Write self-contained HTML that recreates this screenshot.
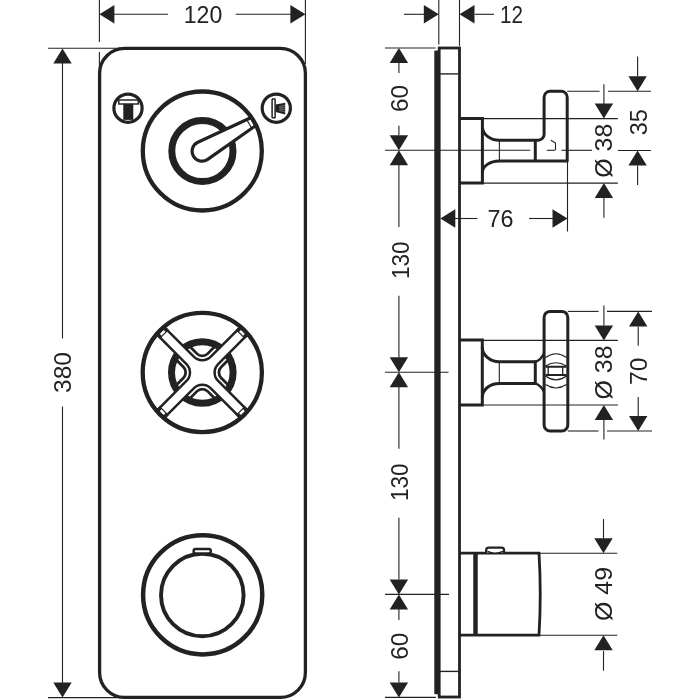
<!DOCTYPE html>
<html><head><meta charset="utf-8"><style>
html,body{margin:0;padding:0;background:#fff;}
svg{display:block;will-change:transform;}
text{font-family:"Liberation Sans",sans-serif;fill:#222222;stroke:none;}
</style></head><body>
<svg width="700" height="700" viewBox="0 0 700 700" stroke="#222222" fill="none">
<rect x="0" y="0" width="700" height="700" fill="#fff" stroke="none"/>
<rect x="99.6" y="48.4" width="205.8" height="649" rx="25" ry="25" fill="none" stroke-width="3.3"/>
<line x1="99.40" y1="0.00" x2="99.40" y2="42.00" stroke-width="1.1"/>
<line x1="99.40" y1="52.00" x2="99.40" y2="74.00" stroke-width="1.1"/>
<line x1="305.40" y1="0.00" x2="305.40" y2="64.00" stroke-width="1.1"/>
<line x1="114.00" y1="14.30" x2="168.00" y2="14.30" stroke-width="1.1"/>
<line x1="235.70" y1="14.30" x2="291.00" y2="14.30" stroke-width="1.1"/>
<polygon points="99.40,14.30 114.40,5.10 114.40,23.50" fill="#222222" stroke="none"/>
<polygon points="305.40,14.30 290.40,5.10 290.40,23.50" fill="#222222" stroke="none"/>
<text x="203.00" y="23.09" font-size="24" text-anchor="middle" textLength="38.5" lengthAdjust="spacingAndGlyphs">120</text>
<line x1="48.00" y1="48.20" x2="125.00" y2="48.20" stroke-width="1.1"/>
<line x1="48.00" y1="697.60" x2="125.00" y2="697.60" stroke-width="1.1"/>
<line x1="62.50" y1="62.00" x2="62.50" y2="338.60" stroke-width="1.1"/>
<line x1="62.50" y1="406.40" x2="62.50" y2="684.00" stroke-width="1.1"/>
<polygon points="62.50,48.40 53.30,63.40 71.70,63.40" fill="#222222" stroke="none"/>
<polygon points="62.50,697.60 53.30,682.60 71.70,682.60" fill="#222222" stroke="none"/>
<text transform="translate(62.40,372.50) rotate(-90)" x="0" y="8.59" font-size="24" text-anchor="middle" textLength="41" lengthAdjust="spacingAndGlyphs">380</text>
<circle cx="202.4" cy="151" r="30.6" fill="none" stroke-width="7"/>
<path d="M251.23,117.57 L197.84,142.32 A9.9,9.9 0 1 0 207.70,159.40 L255.83,125.53 Z" fill="#fff" stroke-width="3.2" stroke-linejoin="round"/>
<line x1="251.88" y1="128.50" x2="246.68" y2="119.50" stroke-width="1.2"/>
<circle cx="202.3" cy="151.0" r="59.5" fill="none" stroke-width="4.3"/>
<circle cx="128" cy="108.2" r="14.1" fill="none" stroke-width="3.2"/>
<rect x="118.8" y="100.0" width="19.4" height="4.0" fill="none" stroke-width="1.45"/>
<rect x="123.3" y="104.0" width="10" height="15.9" fill="#222222" stroke="none"/>
<circle cx="276.3" cy="108.2" r="14.1" fill="none" stroke-width="3.2"/>
<rect x="272.1" y="99.0" width="3.0" height="18.8" rx="0.6" fill="none" stroke-width="1.5"/>
<polygon points="275.6,104.6 285.2,102.7 285.2,114.5 275.6,112.1" fill="#222222" stroke="none"/>
<line x1="279.3" y1="106.59" x2="285.8" y2="105.20" stroke="#fff" stroke-width="0.45" stroke-opacity="0.75"/>
<line x1="279.3" y1="107.86" x2="285.8" y2="107.50" stroke="#fff" stroke-width="0.45" stroke-opacity="0.75"/>
<line x1="279.3" y1="109.12" x2="285.8" y2="109.80" stroke="#fff" stroke-width="0.45" stroke-opacity="0.75"/>
<line x1="279.3" y1="110.39" x2="285.8" y2="112.10" stroke="#fff" stroke-width="0.45" stroke-opacity="0.75"/>
<circle cx="202.3" cy="372.5" r="30.8" fill="none" stroke-width="7"/>
<path d="M218.14,380.99 L246.99,409.84 L239.64,417.19 L210.79,388.34 A12.0,12.0 0 0 0 193.81,388.34 L164.96,417.19 L157.61,409.84 L186.46,380.99 A12.0,12.0 0 0 0 186.46,364.01 L157.61,335.16 L164.96,327.81 L193.81,356.66 A12.0,12.0 0 0 0 210.79,356.66 L239.64,327.81 L246.99,335.16 L218.14,364.01 A12.0,12.0 0 0 0 218.14,380.99 Z" fill="#fff" stroke-width="2.5" stroke-linejoin="round"/>
<path d="M215.03,398.66 L207.74,391.38 A7.7,7.7 0 0 0 196.86,391.38 L189.57,398.66" fill="none" stroke-width="2.8"/>
<path d="M176.14,385.23 L183.42,377.94 A7.7,7.7 0 0 0 183.42,367.06 L176.14,359.77" fill="none" stroke-width="2.8"/>
<path d="M189.57,346.34 L196.86,353.62 A7.7,7.7 0 0 0 207.74,353.62 L215.03,346.34" fill="none" stroke-width="2.8"/>
<path d="M228.46,359.77 L221.18,367.06 A7.7,7.7 0 0 0 221.18,377.94 L228.46,385.23" fill="none" stroke-width="2.8"/>
<polygon points="244.73,405.88 248.19,409.34 239.14,418.39 235.68,414.93" fill="#222222" stroke="none"/>
<polygon points="243.10,409.34 245.65,411.89 241.69,415.85 239.14,413.30" fill="#fff" stroke="none"/>
<polygon points="168.92,414.93 165.46,418.39 156.41,409.34 159.87,405.88" fill="#222222" stroke="none"/>
<polygon points="165.46,413.30 162.91,415.85 158.95,411.89 161.50,409.34" fill="#fff" stroke="none"/>
<polygon points="159.87,339.12 156.41,335.66 165.46,326.61 168.92,330.07" fill="#222222" stroke="none"/>
<polygon points="161.50,335.66 158.95,333.11 162.91,329.15 165.46,331.70" fill="#fff" stroke="none"/>
<polygon points="235.68,330.07 239.14,326.61 248.19,335.66 244.73,339.12" fill="#222222" stroke="none"/>
<polygon points="239.14,331.70 241.69,329.15 245.65,333.11 243.10,335.66" fill="#fff" stroke="none"/>
<circle cx="202.3" cy="372.5" r="59.6" fill="none" stroke-width="4.3"/>
<circle cx="202.7" cy="594.8" r="59.6" fill="none" stroke-width="4.5"/>
<circle cx="202.3" cy="595.0" r="41.3" fill="none" stroke-width="3.9"/>
<rect x="193.6" y="549" width="17.2" height="4.5" rx="2" fill="#fff" stroke-width="2.4"/>
<rect x="434.3" y="50.4" width="5" height="643.9" rx="1" fill="#222222" stroke="none"/>
<rect x="439.2" y="48" width="20.3" height="649" fill="none" stroke-width="2.8"/>
<line x1="440.00" y1="73.90" x2="458.40" y2="73.90" stroke-width="1.4"/>
<line x1="440.00" y1="671.40" x2="458.40" y2="671.40" stroke-width="1.4"/>
<line x1="438.80" y1="0.00" x2="438.80" y2="44.60" stroke-width="1.1"/>
<line x1="459.50" y1="0.00" x2="459.50" y2="45.90" stroke-width="1.1"/>
<line x1="404.00" y1="14.30" x2="424.00" y2="14.30" stroke-width="1.1"/>
<line x1="474.90" y1="14.30" x2="494.00" y2="14.30" stroke-width="1.1"/>
<polygon points="438.80,14.30 423.80,5.10 423.80,23.50" fill="#222222" stroke="none"/>
<polygon points="459.50,14.30 474.50,5.10 474.50,23.50" fill="#222222" stroke="none"/>
<text x="511.40" y="23.19" font-size="24" text-anchor="middle" textLength="23" lengthAdjust="spacingAndGlyphs">12</text>
<line x1="385.00" y1="48.00" x2="435.60" y2="48.00" stroke-width="1.1"/>
<line x1="385.00" y1="697.40" x2="435.90" y2="697.40" stroke-width="1.1"/>
<line x1="385.00" y1="150.30" x2="530.20" y2="150.30" stroke-width="1.1"/>
<line x1="385.00" y1="372.30" x2="448.50" y2="372.30" stroke-width="1.1"/>
<line x1="385.00" y1="594.40" x2="449.00" y2="594.40" stroke-width="1.1"/>
<line x1="398.90" y1="63.00" x2="398.90" y2="72.90" stroke-width="1.1"/>
<line x1="398.90" y1="125.70" x2="398.90" y2="135.30" stroke-width="1.1"/>
<polygon points="398.90,48.00 389.70,63.00 408.10,63.00" fill="#222222" stroke="none"/>
<polygon points="398.90,150.30 389.70,135.30 408.10,135.30" fill="#222222" stroke="none"/>
<polygon points="398.90,150.30 389.70,165.30 408.10,165.30" fill="#222222" stroke="none"/>
<text transform="translate(399.80,98.60) rotate(-90)" x="0" y="8.59" font-size="24" text-anchor="middle" textLength="27" lengthAdjust="spacingAndGlyphs">60</text>
<line x1="398.90" y1="165.00" x2="398.90" y2="227.00" stroke-width="1.1"/>
<line x1="398.90" y1="295.70" x2="398.90" y2="357.50" stroke-width="1.1"/>
<polygon points="398.90,372.30 389.70,357.30 408.10,357.30" fill="#222222" stroke="none"/>
<polygon points="398.90,372.30 389.70,387.30 408.10,387.30" fill="#222222" stroke="none"/>
<text transform="translate(400.40,260.20) rotate(-90)" x="0" y="8.59" font-size="24" text-anchor="middle" textLength="37.5" lengthAdjust="spacingAndGlyphs">130</text>
<line x1="398.90" y1="387.00" x2="398.90" y2="448.70" stroke-width="1.1"/>
<line x1="398.90" y1="517.80" x2="398.90" y2="579.50" stroke-width="1.1"/>
<polygon points="398.90,594.40 389.70,579.40 408.10,579.40" fill="#222222" stroke="none"/>
<polygon points="398.90,594.40 389.70,609.40 408.10,609.40" fill="#222222" stroke="none"/>
<text transform="translate(399.80,482.20) rotate(-90)" x="0" y="8.59" font-size="24" text-anchor="middle" textLength="37.5" lengthAdjust="spacingAndGlyphs">130</text>
<line x1="398.90" y1="609.00" x2="398.90" y2="619.90" stroke-width="1.1"/>
<line x1="398.90" y1="671.20" x2="398.90" y2="682.50" stroke-width="1.1"/>
<polygon points="398.90,697.40 389.70,682.40 408.10,682.40" fill="#222222" stroke="none"/>
<text transform="translate(399.80,646.20) rotate(-90)" x="0" y="8.59" font-size="24" text-anchor="middle" textLength="27" lengthAdjust="spacingAndGlyphs">60</text>
<path d="M459.4,118.6 H482.4 V183.1 H459.4" fill="none" stroke-width="3"/>
<path d="M482.4,127 A17,13.4 0 0 0 499.4,140.2 H538 A6,6 0 0 0 544.1,134.2 V97.3 A6,6 0 0 1 550.1,91.3 H561.2 A6,6 0 0 1 567.2,97.3 V161 H499.4 A17,11.5 0 0 0 482.4,172.5" fill="none" stroke-width="3" stroke-linejoin="round"/>
<line x1="499.40" y1="140.20" x2="499.40" y2="161.00" stroke-width="1.1"/>
<line x1="535.30" y1="140.20" x2="535.30" y2="161.00" stroke-width="3"/>
<line x1="482.40" y1="118.60" x2="617.90" y2="118.60" stroke-width="1.1"/>
<line x1="482.40" y1="183.10" x2="617.90" y2="183.10" stroke-width="1.1"/>
<line x1="546.90" y1="150.30" x2="555.30" y2="150.30" stroke-width="1.1"/>
<line x1="561.40" y1="150.30" x2="592.00" y2="150.30" stroke-width="1.1"/>
<polyline points="550.8,140.2 555.5,143 555.5,150" fill="none" stroke-width="1.1"/>
<line x1="567.50" y1="161.00" x2="567.50" y2="231.50" stroke-width="1.1"/>
<line x1="567.20" y1="91.20" x2="599.60" y2="91.20" stroke-width="1.1"/>
<line x1="608.00" y1="91.20" x2="651.00" y2="91.20" stroke-width="1.1"/>
<line x1="617.90" y1="150.50" x2="651.00" y2="150.50" stroke-width="1.1"/>
<line x1="453.50" y1="218.50" x2="477.50" y2="218.50" stroke-width="1.1"/>
<line x1="529.00" y1="218.50" x2="553.50" y2="218.50" stroke-width="1.1"/>
<polygon points="440.30,218.50 455.30,209.30 455.30,227.70" fill="#222222" stroke="none"/>
<polygon points="567.50,218.50 552.50,209.30 552.50,227.70" fill="#222222" stroke="none"/>
<text x="500.60" y="227.09" font-size="24" text-anchor="middle" textLength="26" lengthAdjust="spacingAndGlyphs">76</text>
<line x1="603.90" y1="84.30" x2="603.90" y2="104.00" stroke-width="1.1"/>
<line x1="603.90" y1="198.00" x2="603.90" y2="217.70" stroke-width="1.1"/>
<polygon points="603.90,118.60 594.70,103.60 613.10,103.60" fill="#222222" stroke="none"/>
<polygon points="603.90,183.10 594.70,198.10 613.10,198.10" fill="#222222" stroke="none"/>
<text transform="translate(603.90,150.70) rotate(-90)" x="0" y="8.59" font-size="24" text-anchor="middle" textLength="54" lengthAdjust="spacingAndGlyphs">Ø 38</text>
<line x1="637.60" y1="56.40" x2="637.60" y2="76.50" stroke-width="1.1"/>
<line x1="637.60" y1="165.50" x2="637.60" y2="185.00" stroke-width="1.1"/>
<polygon points="637.60,91.20 628.40,76.20 646.80,76.20" fill="#222222" stroke="none"/>
<polygon points="637.60,150.50 628.40,165.50 646.80,165.50" fill="#222222" stroke="none"/>
<text transform="translate(638.20,122.30) rotate(-90)" x="0" y="8.59" font-size="24" text-anchor="middle" textLength="26" lengthAdjust="spacingAndGlyphs">35</text>
<path d="M459.4,340.1 H482.3 V405 H459.4" fill="none" stroke-width="3"/>
<path d="M482.3,347 A17,14.8 0 0 0 499.3,361.8 H535.5 M535.5,383.4 H499.3 A17,14 0 0 0 482.3,397.4" fill="none" stroke-width="3"/>
<line x1="499.30" y1="361.80" x2="499.30" y2="383.40" stroke-width="1.1"/>
<line x1="535.30" y1="360.30" x2="535.30" y2="384.90" stroke-width="3"/>
<path d="M535.5,361.8 Q541,360 544,353 M535.5,383.4 Q541,385.5 544,392" fill="none" stroke-width="2.2"/>
<rect x="544.1" y="311.4" width="23.7" height="119.6" rx="6" fill="none" stroke-width="3"/>
<path d="M545.5,357.5 Q556,350 566.5,357.5 M545.5,366 Q556,359.5 566.5,366 M545.5,376 Q556,383.6 566.5,376 M545.5,384.6 Q556,391.4 566.5,384.6" fill="none" stroke-width="1.2"/>
<path d="M545.5,366.8 H566.5 M545.5,375.1 H566.5" fill="none" stroke-width="2"/>
<line x1="548.20" y1="366.80" x2="548.20" y2="375.10" stroke-width="1.3"/>
<line x1="562.70" y1="366.80" x2="562.70" y2="375.10" stroke-width="1.3"/>
<line x1="482.30" y1="340.40" x2="617.90" y2="340.40" stroke-width="1.1"/>
<line x1="482.30" y1="405.00" x2="617.90" y2="405.00" stroke-width="1.1"/>
<line x1="567.80" y1="311.40" x2="598.60" y2="311.40" stroke-width="1.1"/>
<line x1="607.00" y1="311.40" x2="652.00" y2="311.40" stroke-width="1.1"/>
<line x1="567.80" y1="431.00" x2="598.60" y2="431.00" stroke-width="1.1"/>
<line x1="607.00" y1="431.00" x2="652.00" y2="431.00" stroke-width="1.1"/>
<line x1="603.90" y1="305.40" x2="603.90" y2="325.50" stroke-width="1.1"/>
<line x1="603.90" y1="420.00" x2="603.90" y2="439.40" stroke-width="1.1"/>
<polygon points="603.90,340.40 594.70,325.40 613.10,325.40" fill="#222222" stroke="none"/>
<polygon points="603.90,405.00 594.70,420.00 613.10,420.00" fill="#222222" stroke="none"/>
<text transform="translate(603.90,372.50) rotate(-90)" x="0" y="8.59" font-size="24" text-anchor="middle" textLength="54" lengthAdjust="spacingAndGlyphs">Ø 38</text>
<line x1="638.20" y1="326.40" x2="638.20" y2="345.70" stroke-width="1.1"/>
<line x1="638.20" y1="397.00" x2="638.20" y2="416.00" stroke-width="1.1"/>
<polygon points="638.20,311.40 629.00,326.40 647.40,326.40" fill="#222222" stroke="none"/>
<polygon points="638.20,431.00 629.00,416.00 647.40,416.00" fill="#222222" stroke="none"/>
<text transform="translate(638.20,371.20) rotate(-90)" x="0" y="8.59" font-size="24" text-anchor="middle" textLength="27.5" lengthAdjust="spacingAndGlyphs">70</text>
<path d="M459.4,553.2 H539 Q541.5,594 539,635.2 H459.4" fill="none" stroke-width="2.8"/>
<line x1="475.50" y1="553.20" x2="475.50" y2="635.20" stroke-width="4.5"/>
<path d="M486.2,553 V550 Q486.2,547.6 488.6,547.6 H501.6 Q504,547.6 504,550 V553" fill="#fff" stroke-width="2.3"/>
<path d="M487.5,551.5 Q495,555 503,551.5" fill="none" stroke-width="1.5"/>
<line x1="539.00" y1="553.20" x2="617.30" y2="553.20" stroke-width="1.1"/>
<line x1="539.00" y1="635.20" x2="617.30" y2="635.20" stroke-width="1.1"/>
<line x1="603.50" y1="519.00" x2="603.50" y2="538.50" stroke-width="1.1"/>
<line x1="603.50" y1="651.00" x2="603.50" y2="670.70" stroke-width="1.1"/>
<polygon points="603.50,553.20 594.30,538.20 612.70,538.20" fill="#222222" stroke="none"/>
<polygon points="603.50,635.20 594.30,650.20 612.70,650.20" fill="#222222" stroke="none"/>
<text transform="translate(603.90,594.00) rotate(-90)" x="0" y="8.59" font-size="24" text-anchor="middle" textLength="54" lengthAdjust="spacingAndGlyphs">Ø 49</text>
</svg>
</body></html>
